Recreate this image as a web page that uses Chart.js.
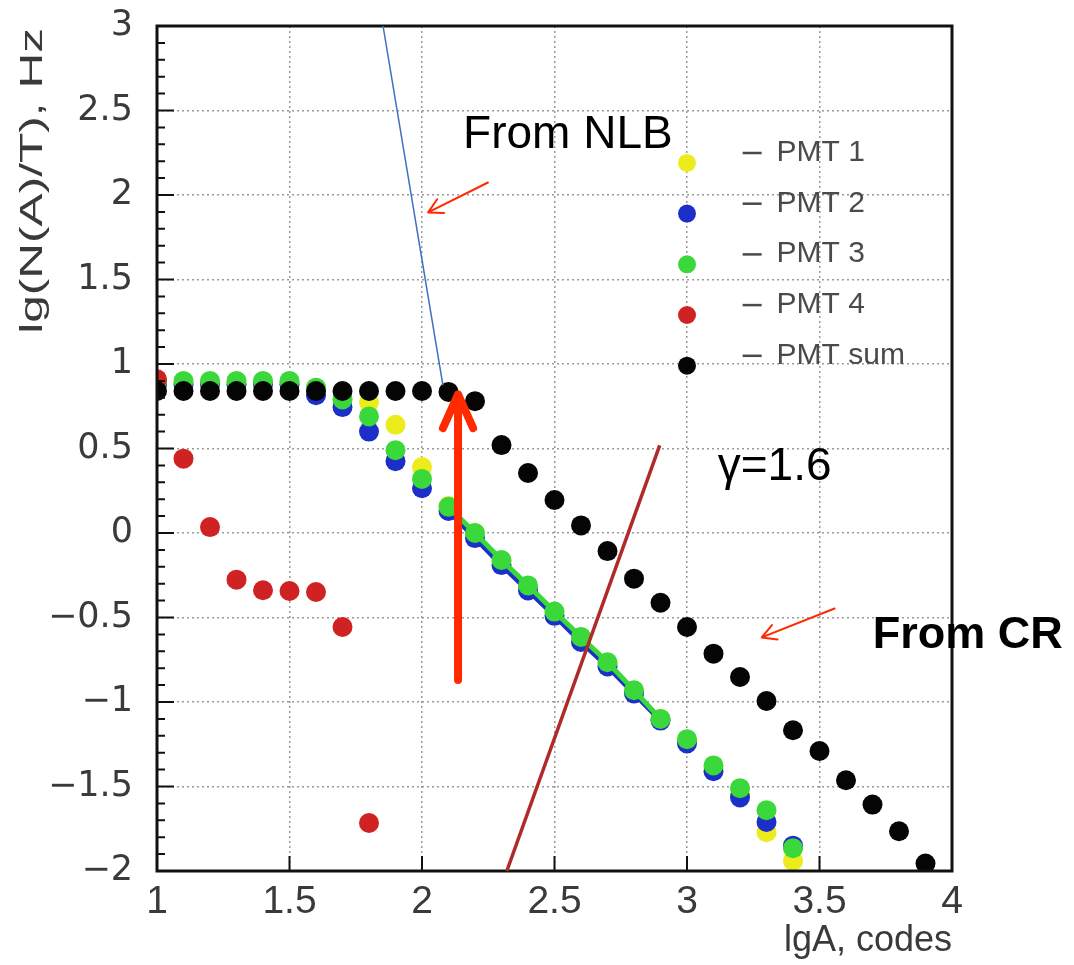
<!DOCTYPE html>
<html>
<head>
<meta charset="utf-8">
<script src="https://cdn.jsdelivr.net/npm/chart.js@4.4.1/dist/chart.umd.min.js"></script>
<style>
  html, body { margin: 0; padding: 0; background: #fff; }
  #wrap { width: 1074px; height: 965px; }
</style>
</head>
<body>
<div id="wrap"><canvas id="rateChart" width="1074" height="965"></canvas></div>
<script>
// amplitude bins, lg of ADC codes
var lgA = [1.0, 1.1, 1.2, 1.3, 1.4, 1.5, 1.6, 1.7, 1.8, 1.9, 2.0, 2.1, 2.2,
           2.3, 2.4, 2.5, 2.6, 2.7, 2.8, 2.9, 3.0, 3.1, 3.2, 3.3, 3.4];
var lgASum = [1.0, 1.1, 1.2, 1.3, 1.4, 1.5, 1.6, 1.7, 1.8, 1.9, 2.0, 2.1, 2.2,
              2.3, 2.4, 2.5, 2.6, 2.7, 2.8, 2.9, 3.0, 3.1, 3.2, 3.3, 3.4, 3.5,
              3.6, 3.7, 3.8, 3.9];
var lgAPmt4 = [1.0, 1.1, 1.2, 1.3, 1.4, 1.5, 1.6, 1.7, 1.8];

// lg of integral rate, Hz
var pmt1 = [0.89, 0.89, 0.89, 0.89, 0.89, 0.89, 0.84, 0.79, 0.775, 0.64, 0.39, 0.16, 0.0,
            -0.17, -0.32, -0.47, -0.62, -0.77, -0.94, -1.10, -1.23, -1.39, -1.54, -1.77, -1.94];
var pmt2 = [0.88, 0.88, 0.88, 0.88, 0.88, 0.88, 0.815, 0.745, 0.60, 0.425, 0.265, 0.13, -0.03,
            -0.19, -0.34, -0.49, -0.645, -0.79, -0.95, -1.11, -1.245, -1.41, -1.565, -1.71, -1.85];
var pmt3 = [0.90, 0.90, 0.90, 0.90, 0.90, 0.90, 0.86, 0.79, 0.69, 0.49, 0.32, 0.155, 0.0,
            -0.16, -0.31, -0.465, -0.615, -0.765, -0.93, -1.10, -1.22, -1.375, -1.51, -1.64, -1.865];
var pmt4 = [0.91, 0.44, 0.035, -0.276, -0.339, -0.343, -0.349, -0.556, -1.716];
var pmtSum = [0.84, 0.84, 0.84, 0.84, 0.84, 0.84, 0.84, 0.84, 0.84, 0.84, 0.84, 0.835, 0.78,
              0.52, 0.355, 0.195, 0.045, -0.107, -0.27, -0.413, -0.556, -0.714, -0.852, -0.994,
              -1.167, -1.29, -1.463, -1.607, -1.765, -1.956];

var xTicks = [1, 1.5, 2, 2.5, 3, 3.5, 4];
var yTicks = [-2, -1.5, -1, -0.5, 0, 0.5, 1, 1.5, 2, 2.5, 3];
var legendNames = ["PMT 1", "PMT 2", "PMT 3", "PMT 4", "PMT sum"];
var legendRows = [2.19, 1.89, 1.59, 1.29, 0.99];
var fitRange = [2.1, 2.9];
var yTitle = "lg(N(A)/T), Hz";

var cYellow = "#ecec1c", cBlue = "#1c2fc8", cGreen = "#3ad83a", cRed = "#d02222", cBlack = "#050505";
var legendColors = [cYellow, cBlue, cGreen, cRed, cBlack];
var sans = "'Liberation Sans', Arial, sans-serif";

function pairs(xs, ys) {
  return xs.map(function(x, i) { return { x: x, y: ys[i] }; });
}

function fitSegment(color) {
  return function(ctx) {
    var a = ctx.p0.parsed.x, b = ctx.p1.parsed.x;
    return (a >= fitRange[0] - 0.01 && b <= fitRange[1] + 0.01) ? color : "rgba(0,0,0,0)";
  };
}

function fmt(v) {
  return String(v).replace("-", "\u2212");
}

// frame, minor ticks, legend entries, y title and annotations
var overlay = {
  id: "overlay",
  afterDraw: function(chart) {
    var ctx = chart.ctx, a = chart.chartArea;
    var sx = chart.scales.x, sy = chart.scales.y;
    function P(x, y) { return [sx.getPixelForValue(x), sy.getPixelForValue(y)]; }

    ctx.save();
    // tick marks
    ctx.strokeStyle = "#111";
    ctx.lineWidth = 2;
    ctx.beginPath();
    for (var k = -20; k <= 30; k++) {
      var yy = sy.getPixelForValue(k / 10);
      var len = (k % 5 === 0) ? 17 : 8;
      ctx.moveTo(a.left, yy); ctx.lineTo(a.left + len, yy);
    }
    xTicks.forEach(function(v) {
      var xx = sx.getPixelForValue(v);
      ctx.moveTo(xx, a.bottom); ctx.lineTo(xx, a.bottom - 15);
    });
    ctx.stroke();

    // frame
    ctx.lineWidth = 3;
    ctx.strokeStyle = "#111";
    ctx.strokeRect(a.left, a.top, a.right - a.left, a.bottom - a.top);

    // y axis title, stretched along its length
    ctx.save();
    ctx.translate(33, a.top + 2);
    ctx.rotate(-Math.PI / 2);
    ctx.scale(1.55, 1);
    ctx.font = "32px " + sans;
    ctx.fillStyle = "#3a3a3a";
    ctx.textAlign = "right";
    ctx.textBaseline = "middle";
    ctx.fillText(yTitle, 0, 0);
    ctx.restore();

    // legend
    ctx.font = "30px " + sans;
    ctx.textBaseline = "middle";
    ctx.textAlign = "left";
    legendNames.forEach(function(name, i) {
      var m = P(3.0, legendRows[i]);
      ctx.fillStyle = legendColors[i];
      ctx.beginPath(); ctx.arc(m[0], m[1], 9, 0, Math.PI * 2); ctx.fill();
      var d = P(3.21, legendRows[i] + 0.06);
      ctx.fillStyle = "#4a4a4a";
      ctx.fillRect(d[0], d[1] - 1, 19, 2.5);
      var t = P(3.338, legendRows[i] + 0.06);
      ctx.fillText(name, t[0], t[1]);
    });

    // NLB trend line
    var b0 = P(1.853, 3.0), b1 = P(2.079, 0.874);
    ctx.strokeStyle = "#3f6fbf";
    ctx.lineWidth = 1.5;
    ctx.beginPath(); ctx.moveTo(b0[0], b0[1]); ctx.lineTo(b1[0], b1[1]); ctx.stroke();

    // slope line
    var r0 = P(2.32, -2.0), r1 = P(2.897, 0.518);
    ctx.strokeStyle = "#b02a2a";
    ctx.lineWidth = 3.5;
    ctx.beginPath(); ctx.moveTo(r0[0], r0[1]); ctx.lineTo(r1[0], r1[1]); ctx.stroke();

    function arrow(from, to, width, armLen, armAng, color) {
      var p = P(from[0], from[1]), q = P(to[0], to[1]);
      var ang = Math.atan2(q[1] - p[1], q[0] - p[0]);
      ctx.strokeStyle = color;
      ctx.lineWidth = width;
      ctx.lineCap = "round";
      ctx.lineJoin = "round";
      ctx.beginPath();
      ctx.moveTo(p[0], p[1]); ctx.lineTo(q[0], q[1]);
      ctx.moveTo(q[0] - armLen * Math.cos(ang - armAng), q[1] - armLen * Math.sin(ang - armAng));
      ctx.lineTo(q[0], q[1]);
      ctx.lineTo(q[0] - armLen * Math.cos(ang + armAng), q[1] - armLen * Math.sin(ang + armAng));
      ctx.stroke();
    }
    arrow([2.136, -0.87], [2.136, 0.82], 8, 37, 0.42, "#ff2a00");
    arrow([2.249, 2.074], [2.023, 1.897], 2, 16, 0.5, "#ff2a00");
    arrow([3.557, -0.447], [3.282, -0.618], 2, 16, 0.5, "#ff2a00");

    // captions
    ctx.fillStyle = "#000";
    ctx.textBaseline = "alphabetic";
    ctx.font = "46px " + sans;
    var t1 = P(2.155, 2.276); ctx.fillText("From NLB", t1[0], t1[1]);
    var t2 = P(3.116, 0.311); ctx.fillText("\u03b3=1.6", t2[0], t2[1]);
    ctx.font = "bold 45px " + sans;
    var t3 = P(3.701, -0.678); ctx.fillText("From CR", t3[0], t3[1]);
    ctx.restore();
  }
};

var dotRadius = 10;
function pointSet(label, xs, ys, color, order, extra) {
  var ds = {
    label: label,
    data: pairs(xs, ys),
    backgroundColor: color,
    borderColor: color,
    pointRadius: dotRadius,
    pointBorderWidth: 0,
    pointHoverRadius: dotRadius,
    showLine: false,
    order: order,
    clip: 0
  };
  for (var k in extra) ds[k] = extra[k];
  return ds;
}

var ctx = document.getElementById("rateChart").getContext("2d");
var chart = new Chart(ctx, {
  type: "scatter",
  data: {
    datasets: [
      pointSet("PMT sum", lgASum, pmtSum, cBlack, 1),
      pointSet("PMT 4", lgAPmt4, pmt4, cRed, 2),
      pointSet("PMT 3", lgA, pmt3, cGreen, 3, {
        showLine: true, borderWidth: 5, segment: { borderColor: fitSegment(cGreen) }
      }),
      pointSet("PMT 2", lgA, pmt2, cBlue, 4, {
        showLine: true, borderWidth: 5, segment: { borderColor: fitSegment(cBlue) }
      }),
      pointSet("PMT 1", lgA, pmt1, cYellow, 5)
    ]
  },
  options: {
    responsive: false,
    animation: false,
    layout: { padding: { top: 26, right: 122, left: 0, bottom: 0 } },
    plugins: {
      legend: { display: false },
      tooltip: { enabled: false }
    },
    scales: {
      x: {
        type: "linear",
        min: 1, max: 4,
        afterBuildTicks: function(s) { s.ticks = xTicks.map(function(v) { return { value: v }; }); },
        afterFit: function(s) { s.height = 94; s.paddingLeft = 0; s.paddingRight = 0; },
        grid: { color: "#9a9a9a", lineWidth: 1.5, drawTicks: false },
        border: { display: false, dash: [2, 3] },
        ticks: {
          padding: 8,
          color: "#3a3a3a",
          font: { family: sans, size: 39 },
          maxRotation: 0,
          callback: function(v) { return fmt(v); }
        },
        title: {
          display: true,
          text: "lgA, codes",
          align: "end",
          color: "#3a3a3a",
          font: { family: sans, size: 36 },
          padding: { top: 0, bottom: 2 }
        }
      },
      y: {
        type: "linear",
        min: -2, max: 3,
        afterBuildTicks: function(s) { s.ticks = yTicks.map(function(v) { return { value: v }; }); },
        afterFit: function(s) { s.width = 157; s.paddingTop = 0; s.paddingBottom = 0; },
        grid: { color: "#9a9a9a", lineWidth: 1.5, drawTicks: false },
        border: { display: false, dash: [2, 3] },
        ticks: {
          padding: 24,
          color: "#3a3a3a",
          font: { family: "'DejaVu Sans', sans-serif", size: 35 },
          callback: function(v) { return fmt(v); }
        }
      }
    }
  },
  plugins: [overlay]
});
</script>
</body>
</html>
